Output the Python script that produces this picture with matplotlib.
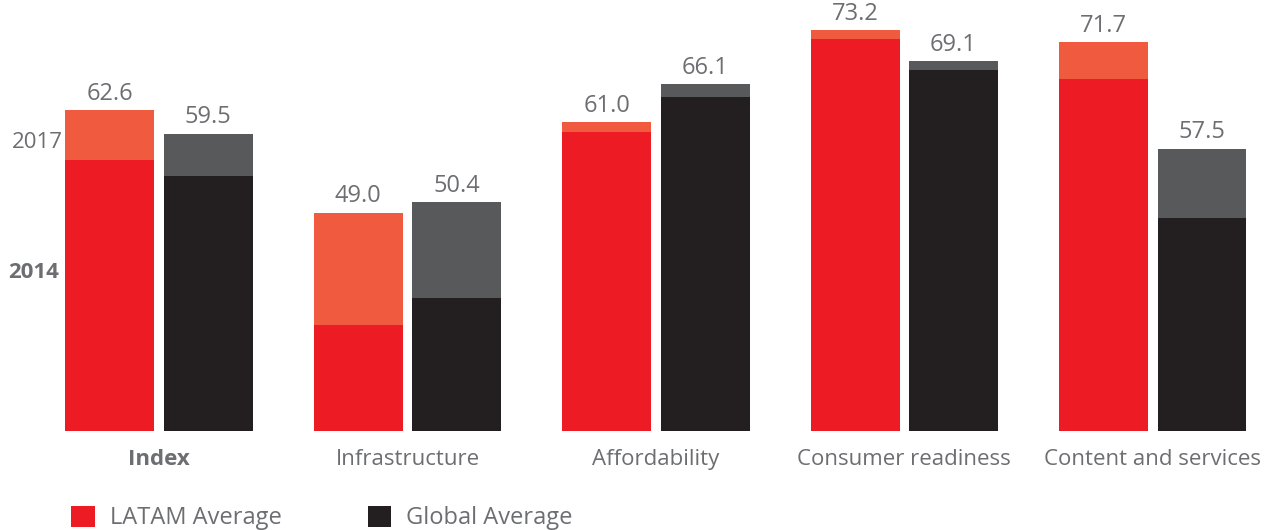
import matplotlib.pyplot as plt
from matplotlib.patches import Patch
import numpy as np

plt.rcParams['font.family'] = ['Open Sans', 'DejaVu Sans']

categories = ['Index', 'Infrastructure', 'Affordability', 'Consumer readiness', 'Content and services']
latam_2017 = [62.6, 49.0, 61.0, 73.2, 71.7]
latam_2014 = [56.0, 34.1, 59.7, 72.0, 66.7]
global_2017 = [59.5, 50.4, 66.1, 69.1, 57.5]
global_2014 = [53.9, 37.7, 64.3, 67.9, 48.3]

RED = '#ed1c24'
RED_LIGHT = '#f05a3e'
BLACK = '#231f20'
GREY = '#58595b'
TEXT = '#6d6e71'

fig = plt.figure(figsize=(12.8, 5.3), dpi=100)
ax = fig.add_axes([0, 99 / 530, 1, 431 / 530])

x = np.arange(len(categories))
w = 0.358
off = 0.198
base = 20

# 2014 part at the bottom, 2017 gain stacked on top
ax.bar(x - off, np.array(latam_2014) - base, w, bottom=base, color=RED)
ax.bar(x - off, np.array(latam_2017) - np.array(latam_2014), w, bottom=latam_2014, color=RED_LIGHT)
ax.bar(x + off, np.array(global_2014) - base, w, bottom=base, color=BLACK)
ax.bar(x + off, np.array(global_2017) - np.array(global_2014), w, bottom=global_2014, color=GREY)

for xi, v in zip(x - off, latam_2017):
    ax.annotate(f'{v:.1f}', (xi, v), xytext=(0, 3), textcoords='offset points',
                ha='center', va='bottom', fontsize=17, color=TEXT)
for xi, v in zip(x + off, global_2017):
    ax.annotate(f'{v:.1f}', (xi, v), xytext=(0, 3), textcoords='offset points',
                ha='center', va='bottom', fontsize=17, color=TEXT)

ax.set_xlim(-0.640, 4.512)
ax.set_ylim(base, base + 431 / 7.53)
ax.set_xticks(x)
ax.set_xticklabels(categories, fontsize=16, color=TEXT)
ax.get_xticklabels()[0].set_fontweight('bold')
ax.tick_params(axis='x', length=0, pad=13)
ax.set_yticks([])
for s in ax.spines.values():
    s.set_visible(False)

fig.text(0.0094, 1 - 143 / 530, '2017', ha='left', va='center', fontsize=16, color=TEXT)
fig.text(0.0063, 1 - 272 / 530, '2014', ha='left', va='center', fontsize=16, color=TEXT, fontweight='bold')

handles = [Patch(facecolor=RED, label='LATAM Average'),
           Patch(facecolor=BLACK, label='Global Average')]
fig.legend(handles=handles, loc='center left', bbox_to_anchor=(71 / 1280, 1 - 518 / 530), ncol=2,
           frameon=False, fontsize=17, labelcolor=TEXT, handlelength=1.0, handleheight=1.0,
           handletextpad=0.64, columnspacing=3.64, borderpad=0, borderaxespad=0)

fig.savefig('out.png', dpi=100)
